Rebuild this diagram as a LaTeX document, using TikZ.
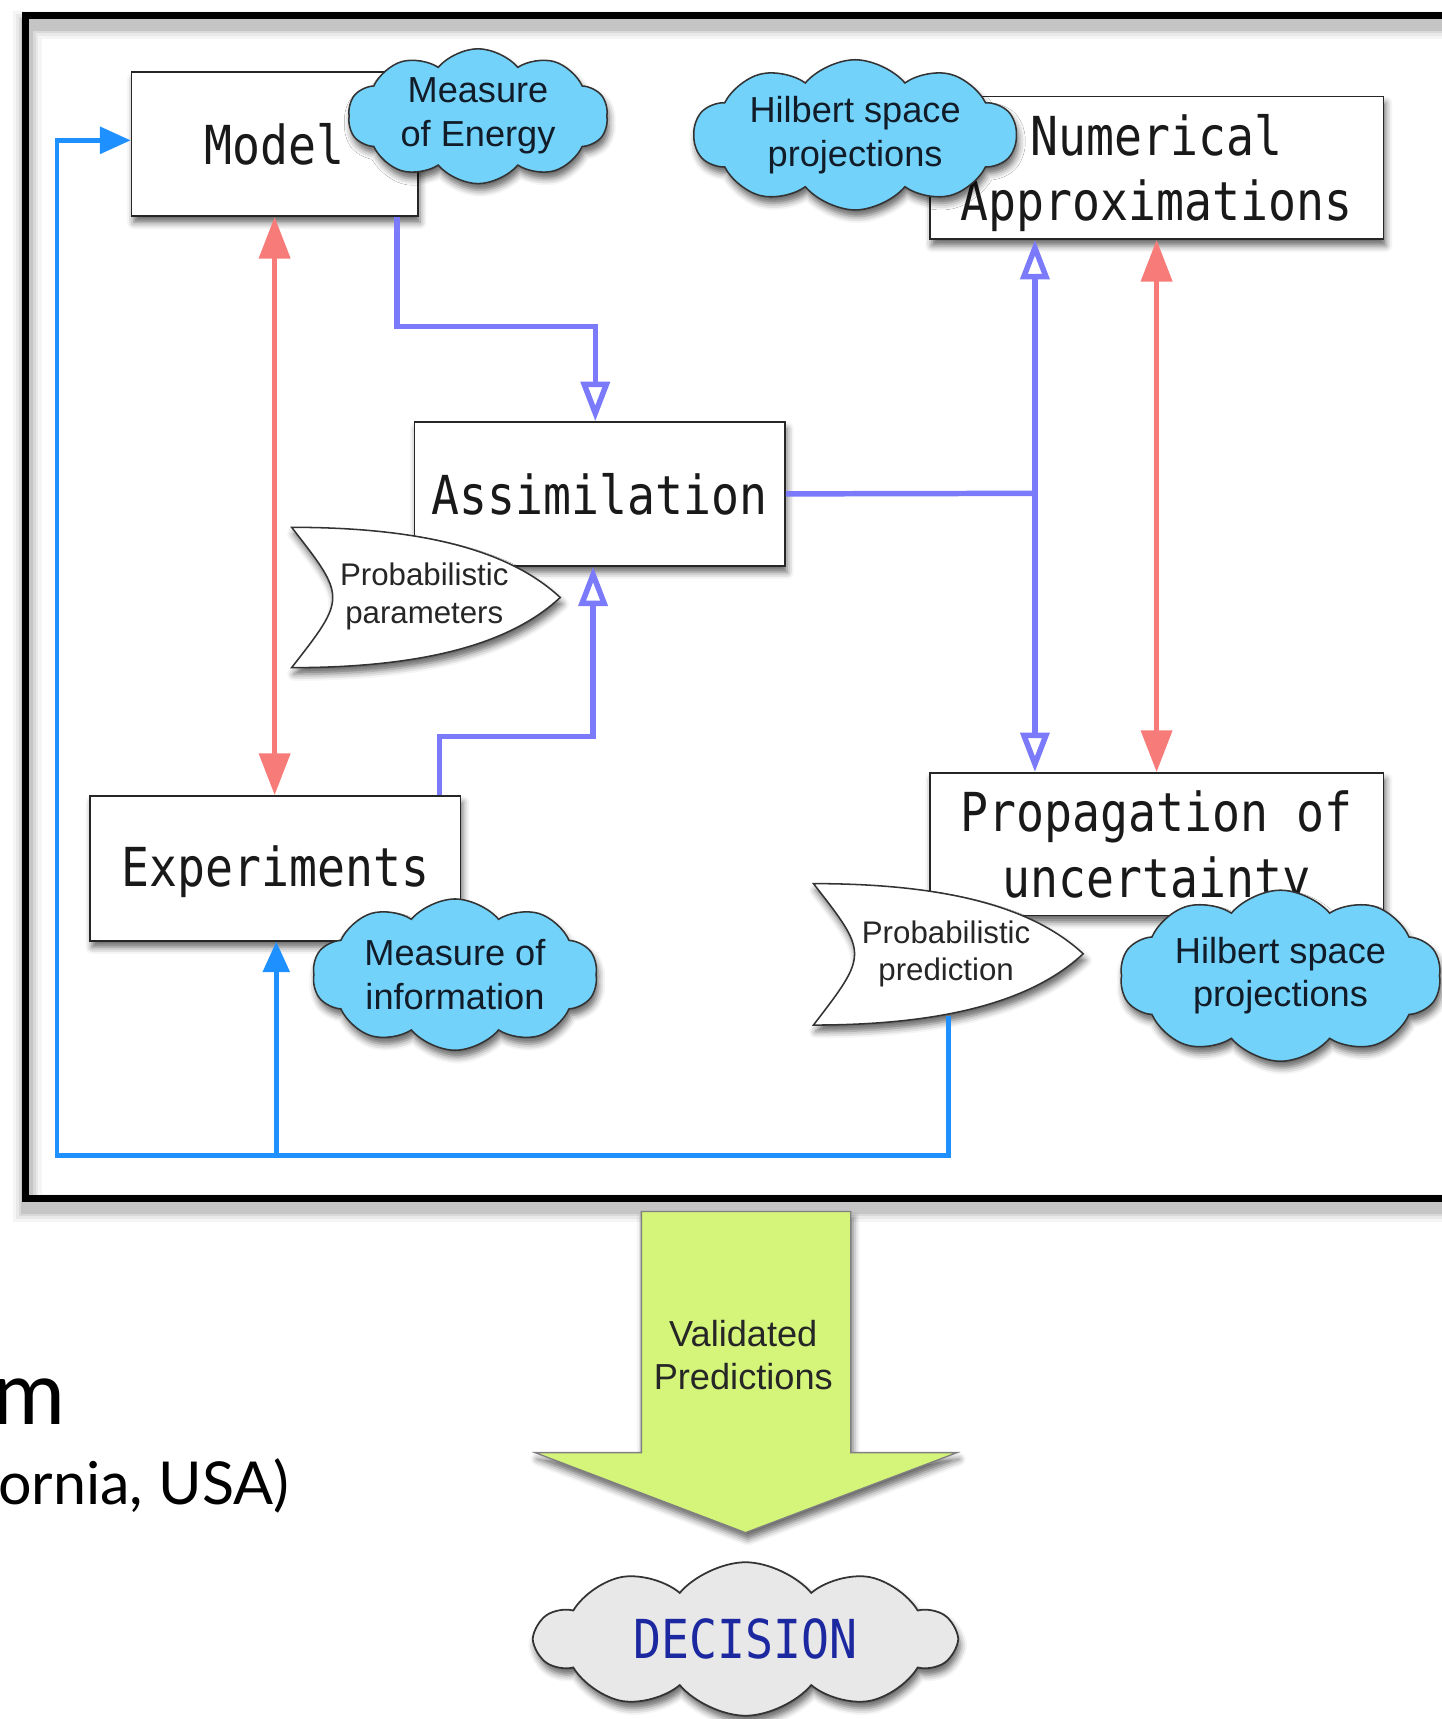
\documentclass[tikz,border=0pt]{standalone}
\usepackage{fontspec}
\usetikzlibrary{shapes.symbols,arrows.meta,shadows,shadows.blur,calc}
\newfontfamily\boxfont[FakeStretch=0.865]{DejaVu Sans Mono}
\newfontfamily\cloudfont{Liberation Sans}
\newfontfamily\gillfont{Lato}
\definecolor{skyc}{RGB}{114,210,250}
\definecolor{redc}{RGB}{247,123,120}
\definecolor{perc}{RGB}{122,122,250}
\definecolor{dodc}{RGB}{30,144,255}
\definecolor{limec}{RGB}{212,244,122}
\definecolor{greyc}{RGB}{232,232,232}
\definecolor{navyc}{RGB}{28,40,160}
\definecolor{inkc}{RGB}{18,28,40}
\begin{document}
\begin{tikzpicture}[x=1pt,y=-1pt,
  shadowed/.style={blur shadow={shadow xshift=2pt,shadow yshift=-6pt,shadow blur radius=6pt,shadow opacity=60}},
  box/.style={draw=black!85,line width=1.6pt,fill=white,rectangle,inner sep=0pt,align=center,
     font=\boxfont\fontsize{49}{60}\selectfont,text=black!90,shadowed},
  bluecloud/.style={cloud,cloud puffs=10,cloud puff arc=100,cloud ignores aspect,draw=black!80,
     line width=1.4pt,fill=skyc,inner sep=0pt,align=center,
     font=\cloudfont\fontsize{33}{40}\selectfont,text=inkc,shadowed},
  tag/.style={draw=black!80,line width=1.4pt,fill=white,shadowed},
  tagtext/.style={align=center,font=\cloudfont\fontsize{28.5}{34}\selectfont,text=black!85},
  redline/.style={draw=redc,line width=4.5pt,arrows={Triangle[length=38pt,width=28pt]-Triangle[length=38pt,width=28pt]}},
  perline/.style={draw=perc,line width=5pt},
  perhead/.style={perline,arrows={-Triangle[open,length=36pt,width=26pt,fill=white]}},
  dodline/.style={draw=dodc,line width=4.5pt},
  dodhead/.style={dodline,arrows={-Triangle[length=28pt,width=24pt]}},
]
\useasboundingbox (0,0) rectangle (1315,1568);
% outer frame with soft shadow
\foreach \w/\o in {26/0.04,20/0.05,15/0.07,11/0.09}
  \draw[line width=\w pt, black, opacity=\o] (25,23) rectangle (1345,1102);
\draw[line width=6.5pt] (23,14.5) rectangle (1345,1093);

% nodes
\node[box,minimum width=261pt,minimum height=131pt] (model) at (250.5,131.5) {Model};
\node[bluecloud,minimum width=237pt,minimum height=123pt] (energy) at (436,106) {Measure\\of Energy};
\node[box,minimum width=414pt,minimum height=130pt] (num) at (1055,153) {\rule{0pt}{47pt}Numerical\\Approximations};
\node[bluecloud,minimum width=294pt,minimum height=137pt] (hil1) at (780,123) {Hilbert space\\projections};
\node[box,minimum width=338pt,minimum height=131pt] (assim) at (547,450.5) {Assimilation};
\path[tag] (266,481) .. controls (393,481) and (468,505) .. (511,545)
   .. controls (468,585) and (393,609) .. (266,609)
   .. controls (316,545) .. (266,481) -- cycle;
\node[tagtext] (ppar) at (387,544) {Probabilistic\\parameters};
\node[box,minimum width=338pt,minimum height=132pt] (exp) at (251,792) {\rule{0pt}{43pt}Experiments};
\node[bluecloud,minimum width=260pt,minimum height=138pt] (info) at (415,889) {Measure of\\information};
\node[box,minimum width=414pt,minimum height=130pt] (prop) at (1055,770) {\rule{0pt}{47pt}Propagation of\\uncertainty};
\path[tag] (742,806) .. controls (870,806) and (945,830) .. (988,870)
   .. controls (945,910) and (870,935) .. (742,935)
   .. controls (792,870) .. (742,806) -- cycle;
\node[tagtext] (ppred) at (863,870) {Probabilistic\\prediction};
\coordinate (ppb) at (865,927);
\node[bluecloud,minimum width=293pt,minimum height=156pt] (hil2) at (1168,890) {Hilbert space\\projections};

% connectors
\draw[redline] (model.south) -- (model.south |- exp.north);
\coordinate (m1) at (362,298);
\draw[perhead] ([xshift=111.5pt]model.south) -- (m1) -| ([xshift=-4pt]assim.north);
\coordinate (e1) at (401,672);
\draw[perhead] ([xshift=150pt]exp.north) -- (e1) -| ([xshift=-6pt]assim.south);
\coordinate (j) at (944,450);
\draw[perline] (assim.east) -- (j);
\draw[perhead] (j) -- ([xshift=-111pt]num.south);
\draw[perhead] (j) -- ([xshift=-111pt]prop.north);
\draw[redline] (num.south) -- (prop.north);
\coordinate (d1) at (865,1054);
\coordinate (d2) at (52,1054);
\coordinate (d3) at (252,1054);
\draw[dodhead] (ppb) -- (d1) -- (d2) |- ([yshift=3.5pt]model.west);
\draw[dodhead] (d3) -- (d3 |- exp.south);

% big arrow and decision
\path[draw=black!50,line width=1.2pt,fill=limec,shadowed] (585,1105) -- (776,1105) -- (776,1325)
   -- (873,1325) -- (680,1398) -- (488,1325) -- (585,1325) -- cycle;
\node[font=\cloudfont\fontsize{33}{39}\selectfont,align=center,text=black!85] (valid) at (678,1236) {Validated\\Predictions};
\node[cloud,cloud puffs=10,cloud puff arc=100,cloud ignores aspect,draw=black!80,line width=1.6pt,
   fill=greyc,minimum width=382pt,minimum height=140pt,inner sep=0pt,
   font=\boxfont\fontsize{49}{60}\selectfont,text=navyc,shadowed] (dec) at (680,1495) {DECISION};

% cut-off slide text
\node[anchor=base east,inner sep=0pt,font=\gillfont\fontsize{81}{90}\selectfont] (tm) at (60,1299) {m};
\node[anchor=base east,inner sep=0pt,font=\gillfont\fontsize{54}{60}\selectfont] (tusa) at (264,1372) {ornia, USA)};
\end{tikzpicture}
\end{document}
